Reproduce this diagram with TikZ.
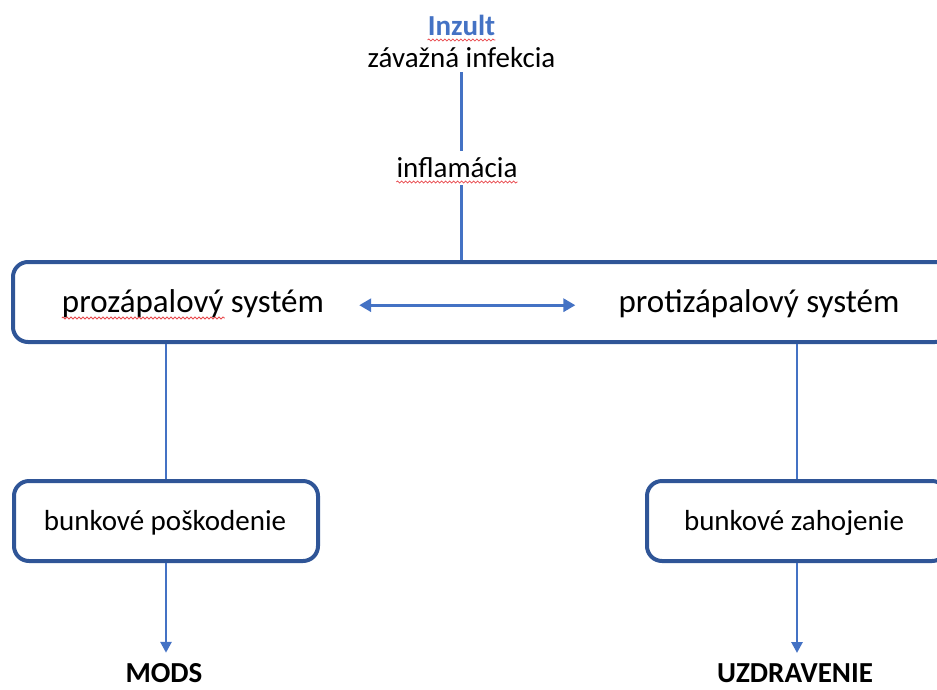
\documentclass[tikz,border=0pt]{standalone}
\usepackage{fontspec}
\setmainfont{Carlito}
\usetikzlibrary{arrows.meta,decorations.pathmorphing}
\definecolor{linkcolor}{HTML}{4472C4}
\definecolor{boxcolor}{HTML}{2F5597}
\definecolor{spellcolor}{HTML}{E8484C}
\tikzset{
  flow text/.style={inner sep=0pt,anchor=base,font=\fontsize{29}{35}\selectfont},
  flow big/.style={flow text,font=\fontsize{33}{40}\selectfont},
  flow bold/.style={flow text,font=\fontsize{29}{35}\selectfont\bfseries},
  flow box/.style={draw=boxcolor,line width=4pt,rounded corners=15pt,minimum height=80pt,inner sep=0pt},
  flow link/.style={linkcolor,line width=2.8pt},
  flow arrow/.style={flow link,-{Triangle[length=11pt,width=11pt]}},
  flow both/.style={linkcolor,line width=3.2pt,{Triangle[length=12pt,width=13pt]}-{Triangle[length=12pt,width=13pt]}},
  flow spell/.style={spellcolor,line width=0.8pt,decorate,decoration={snake,amplitude=1pt,segment length=4pt}}
}
\begin{document}
\begin{tikzpicture}[x=1pt,y=-1pt]
  \path[use as bounding box,clip] (0,0) rectangle (937,689);
  \node[flow box,minimum width=937pt] (sys) at (481.5,302) {};
  \node[flow box,minimum width=304pt] (lbox) at (166,521) {};
  \node[flow box,minimum width=300pt] (rbox) at (797,521) {};
  \node[flow bold,text=linkcolor] (inz) at (461.5,35) {Inzult};
  \node[flow text] (inf) at (461.5,67) {závažná infekcia};
  \node[flow text] (infl) at (457,177) {inflamácia};
  \node[flow big] (pro) at (193,312) {prozápalový systém};
  \node[flow big] (anti) at (759,312) {protizápalový systém};
  \node[flow text] (dmg) at (165,530) {bunkové poškodenie};
  \node[flow text] (heal) at (794,530) {bunkové zahojenie};
  \node[flow bold] (mods) at (164,682) {MODS};
  \node[flow bold] (rec) at (795,682) {UZDRAVENIE};
  \draw[flow link,shorten <=5pt,shorten >=6pt] (inf.south) -- (inf.south |- infl.north);
  \draw[flow link,shorten <=8pt] (inf.south |- infl.south) -- (inf.south |- sys.north);
  \draw[flow both,shorten <=35pt,shorten >=43pt] ([yshift=-2pt]pro.east) -- ([yshift=-2pt]anti.west);
  \draw[flow link] (lbox.north |- sys.south) -- (lbox.north);
  \draw[flow link] (rbox.north |- sys.south) -- (rbox.north);
  \draw[flow arrow,shorten >=10pt] (lbox.south) -- (lbox.south |- mods.north);
  \draw[flow arrow,shorten >=10pt] (rbox.south) -- (rbox.south |- rec.north);
  \draw[flow spell] ([yshift=-5pt]inz.base west) -- ([yshift=-5pt]inz.base east);
  \draw[flow spell] ([yshift=-5pt]infl.base west) -- ([yshift=-5pt]infl.base east);
  \draw[flow spell] ([yshift=-6pt]pro.base west) -- ++(163,0);
\end{tikzpicture}
\end{document}
